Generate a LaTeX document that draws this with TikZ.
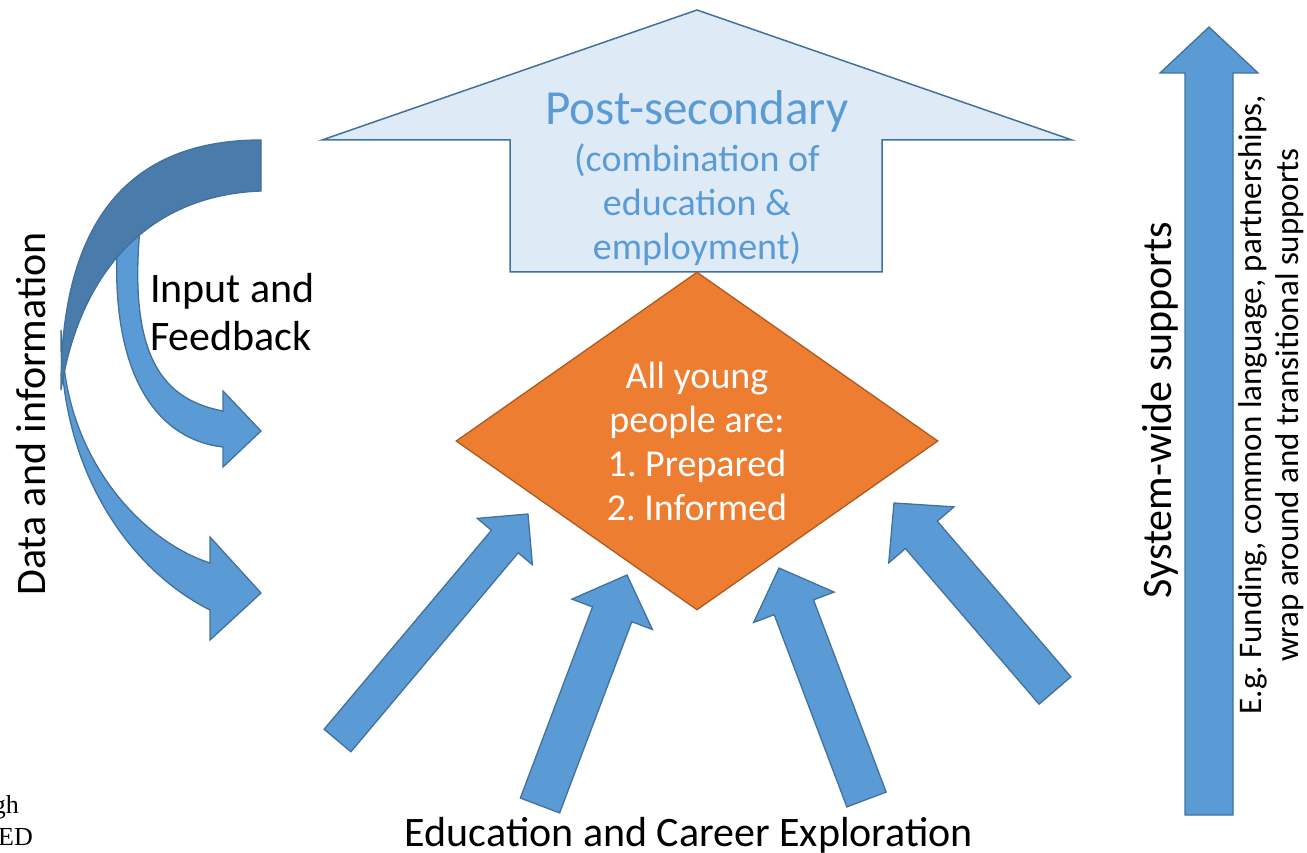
\documentclass[tikz,border=0pt]{standalone}
\usepackage{fontspec}
\setmainfont{Carlito}
\newfontfamily\cutfont{Liberation Serif}
\usetikzlibrary{calc,shapes.geometric}
\frenchspacing
\definecolor{arrowblue}{HTML}{5B9BD5}
\definecolor{arrowedge}{HTML}{41719C}
\definecolor{backblue}{HTML}{497CAA}
\definecolor{paleblue}{HTML}{DEEBF7}
\definecolor{goalorange}{HTML}{ED7D31}
\definecolor{goaledge}{HTML}{AE5A21}
\tikzset{
	every node/.style={
		font=\fontsize{42}{48}\selectfont
	},
	blockarrow/.style={
		fill=arrowblue,
		draw=arrowedge,
		line width=1.3pt,
		line join=miter
	},
	backband/.style={
		fill=backblue,
		draw=arrowedge,
		line width=1.3pt
	},
	postarrow/.style={
		fill=paleblue,
		draw=arrowedge,
		line width=1.5pt
	},
	posttext/.style={
		text=arrowblue,
		align=center,
		inner sep=0pt,
		font=\fontsize{38}{44}\selectfont
	},
	goal/.style={
		shape=diamond,
		fill=goalorange,
		draw=goaledge,
		line width=1.3pt,
		text=white,
		align=center,
		inner sep=0pt,
		aspect=1.43,
		minimum width=482pt,
		minimum height=338pt,
		font=\fontsize{38}{44}\selectfont
	},
	cut/.style={
		anchor=base east,
		inner sep=0pt,
		font=\cutfont\fontsize{26}{30}\selectfont
	}
}
% tail, tip, half shaft, half head, head length
\newcommand{\blockarrow}[5]{%
	\path ($(#2)!#5!(#1)$) coordinate (hb);
	\draw[blockarrow] ($(#1)!#3!90:(#2)$) -- ($(hb)!#3!90:(#2)$) -- ($(hb)!#4!90:(#2)$) -- (#2)
		-- ($(hb)!#4!-90:(#2)$) -- ($(hb)!#3!-90:(#2)$) -- ($(#1)!#3!-90:(#2)$) -- cycle;
}

\begin{document}
\begin{tikzpicture}[x=1pt,y=-1pt]
	\useasboundingbox (0,0) rectangle (1307,853);
	
	\draw[postarrow] (322,140) -- (697,10) -- (1072,140) -- (882,140) -- (882,272) -- (510,272) -- (510,140) -- cycle;
	\node[posttext] (post) at (697,178) {{\fontsize{49}{49}\selectfont Post-secondary}\\[3pt](combination of\\education \&\\employment)};
	
	\node[goal] (goal) at (697,441) {All young\\people are:\\1. Prepared\\2. Informed};
	
	\coordinate (tailA) at (337.5,740.5);
	\coordinate (tipA) at (528,514);
	\coordinate (tailB) at (540,805.5);
	\coordinate (tipB) at (627,575);
	\coordinate (tailC) at (866.5,799.5);
	\coordinate (tipC) at (779,568);
	\coordinate (tailD) at (1055,690.5);
	\coordinate (tipD) at (894,503);
	\coordinate (tailS) at (1209,815);
	\coordinate (tipS) at (1209,27);
	
	\foreach \t/\h/\s/\w/\l in {tailA/tipA/17.5pt/36pt/36pt, tailB/tipB/21pt/43pt/42pt, tailC/tipC/21pt/43pt/42pt, tailD/tipD/21pt/43pt/42pt, tailS/tipS/24pt/49pt/46pt} {
		\blockarrow{\t}{\h}{\s}{\w}{\l}
	}
	
	% curved arrows on the left
	\draw[blockarrow] (117,250) .. controls (112,380) and (160,440) .. (223,447) -- (223,467) -- (261,431) -- (223,391) -- (223,411) .. controls (165,400) and (128,360) .. (140,228) -- cycle;
	\draw[blockarrow] (61,330) .. controls (58,470) and (130,570) .. (210,610) -- (210,640) -- (261,593) -- (210,537) -- (210,563) .. controls (140,540) and (70,460) .. (63,355) -- cycle;
	\draw[backband] (261,140) .. controls (130,140) and (60,220) .. (61,390) .. controls (80,270) and (150,195) .. (261,191) -- cycle;
	
	\node[rotate=90] (data) at (31,414) {Data and information};
	\node[align=left, anchor=west, inner sep=0pt] (feedback) at (150,312) {Input and\\Feedback};
	\node[rotate=90] (supports) at (1160,410) {System-wide supports};
	\node[rotate=90, align=center, font=\fontsize{33}{37}\selectfont] (eg) at (1271,405) {E.g. Funding, common language, partnerships,\\wrap around and transitional supports};
	\node[anchor=base] (explore) at (689,846) {Education and Career Exploration};
	
	\node[cut] (gh) at (19,813) {gh};
	\node[cut] (ed) at (33,845) {ED};
	
\end{tikzpicture}
\end{document}
